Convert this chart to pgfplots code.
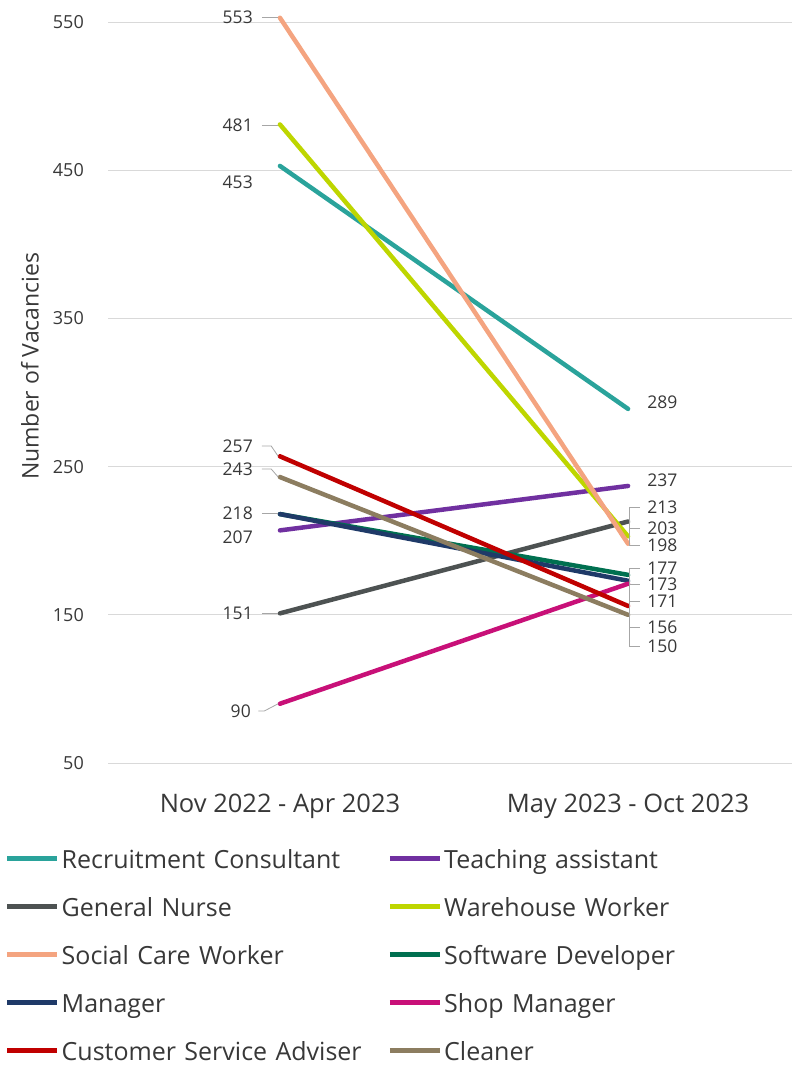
\documentclass[border=0pt]{standalone}
\usepackage{fontspec}
\setmainfont{Open Sans}
\usepackage{pgfplots}
\pgfplotsset{compat=1.18}
\definecolor{rc}{RGB}{42,163,155}
\definecolor{ta}{RGB}{112,48,160}
\definecolor{gn}{RGB}{77,82,82}
\definecolor{ww}{RGB}{190,214,0}
\definecolor{scw}{RGB}{244,164,128}
\definecolor{sd}{RGB}{0,112,80}
\definecolor{mg}{RGB}{31,58,104}
\definecolor{sm}{RGB}{200,16,120}
\definecolor{csa}{RGB}{192,0,0}
\definecolor{cl}{RGB}{140,125,96}
\definecolor{txt}{RGB}{56,56,56}
\definecolor{gridc}{RGB}{217,217,217}
\definecolor{lead}{RGB}{166,166,166}
\begin{document}
\begin{tikzpicture}
\useasboundingbox (0,0) rectangle (792pt,1066pt);
\begin{axis}[
  at={(108pt,303pt)}, anchor=south west,
  width=684pt, height=763pt, scale only axis,
  xmin=-0.494, xmax=1.471, ymin=50, ymax=565,
  xtick={0,1}, xticklabels={Nov 2022 - Apr 2023, May 2023 - Oct 2023},
  ytick={50,150,...,550},
  ymajorgrids, major grid style={color=gridc, line width=1pt},
  axis line style={draw=none},
  major tick length=0pt,
  clip=false,
  /pgf/number format/assume math mode=true,
  ticklabel style={inner sep=1pt, text=txt},
  yticklabel style={anchor=east, xshift=-23pt, font=\fontsize{18}{22}\selectfont},
  xticklabel style={anchor=north, yshift=-30pt, font=\fontsize{25.5}{30}\selectfont},
  ylabel={Number of Vacancies},
  ylabel style={at={(axis description cs:-0.114,0.52)}, anchor=center, text=txt, font=\fontsize{23}{27}\selectfont},
  legend columns=2,
  legend style={at={(axis description cs:-0.1506,-0.1153)}, anchor=north west,
    draw=none, fill=none, inner sep=0pt, row sep=28pt, column sep=0pt,
    font=\fontsize{25}{30}\selectfont, text=txt,
    nodes={inner xsep=2pt, inner ysep=0pt, text width=324pt, align=left, text height=17pt, text depth=3pt}},
  legend image code/.code={\draw[#1,line width=4.5pt,line cap=butt] (0pt,0.28em)--(50pt,0.28em);},
  every axis plot/.append style={line width=4.5pt, line cap=round},
]
\addplot[rc] coordinates {(0,453) (1,289)}; \addlegendentry{Recruitment Consultant}
\addplot[ta] coordinates {(0,207) (1,237)}; \addlegendentry{Teaching assistant}
\addplot[gn] coordinates {(0,151) (1,213)}; \addlegendentry{General Nurse}
\addplot[ww] coordinates {(0,481) (1,203)}; \addlegendentry{Warehouse Worker}
\addplot[scw] coordinates {(0,553) (1,198)}; \addlegendentry{Social Care Worker}
\addplot[sd] coordinates {(0,218) (1,177)}; \addlegendentry{Software Developer}
\addplot[mg] coordinates {(0,218) (1,173)}; \addlegendentry{Manager}
\addplot[sm] coordinates {(0,90) (1,171)}; \addlegendentry{Shop Manager}
\addplot[csa] coordinates {(0,257) (1,156)}; \addlegendentry{Customer Service Adviser}
\addplot[cl] coordinates {(0,243) (1,150)}; \addlegendentry{Cleaner}

% leader lines left
\draw[lead, line width=0.8pt] (axis cs:-0.052,553.4) -- (axis cs:-0.005,553.4);
\draw[lead, line width=0.8pt] (axis cs:-0.052,480.5) -- (axis cs:-0.005,480.5);
\draw[lead, line width=0.8pt] (axis cs:-0.052,263.9) -- (axis cs:-0.025,263.9) -- (axis cs:-0.005,257);
\draw[lead, line width=0.8pt] (axis cs:-0.052,248.4) -- (axis cs:-0.025,248.4) -- (axis cs:-0.005,243);
\draw[lead, line width=0.8pt] (axis cs:-0.052,218.5) -- (axis cs:-0.005,218.5);
\draw[lead, line width=0.8pt] (axis cs:-0.052,151) -- (axis cs:-0.005,151);
\draw[lead, line width=0.8pt] (axis cs:-0.062,85.1) -- (axis cs:-0.045,85.1) -- (axis cs:-0.005,90);
% leader lines right
\draw[lead, line width=0.8pt] (axis cs:1.035,222.7) -- (axis cs:1.005,222.7) -- (axis cs:1.005,197.1) -- (axis cs:1.035,197.1);
\draw[lead, line width=0.8pt] (axis cs:1.005,208.6) -- (axis cs:1.035,208.6);
\draw[lead, line width=0.8pt] (axis cs:1.035,181.6) -- (axis cs:1.005,181.6) -- (axis cs:1.005,129) -- (axis cs:1.035,129);
\draw[lead, line width=0.8pt] (axis cs:1.005,170.8) -- (axis cs:1.035,170.8);
\draw[lead, line width=0.8pt] (axis cs:1.005,159.3) -- (axis cs:1.035,159.3);
\draw[lead, line width=0.8pt] (axis cs:1.005,141.8) -- (axis cs:1.035,141.8);

% data labels
\tikzset{dl/.style={text=txt, font=\fontsize{17.5}{21}\selectfont, inner sep=1pt}}
\node[dl, anchor=east, xshift=-26pt] at (axis cs:0,553.4) {553};
\node[dl, anchor=east, xshift=-26pt] at (axis cs:0,480.5) {481};
\node[dl, anchor=east, xshift=-26pt] at (axis cs:0,442) {453};
\node[dl, anchor=east, xshift=-26pt] at (axis cs:0,263.9) {257};
\node[dl, anchor=east, xshift=-26pt] at (axis cs:0,248.4) {243};
\node[dl, anchor=east, xshift=-26pt] at (axis cs:0,218.5) {218};
\node[dl, anchor=east, xshift=-26pt] at (axis cs:0,202.5) {207};
\node[dl, anchor=east, xshift=-26pt] at (axis cs:0,151) {151};
\node[dl, anchor=east, xshift=-28pt] at (axis cs:0,85.1) {90};
\node[dl, anchor=west, xshift=18pt] at (axis cs:1,293.6) {289};
\node[dl, anchor=west, xshift=18pt] at (axis cs:1,241) {237};
\node[dl, anchor=west, xshift=18pt] at (axis cs:1,222.7) {213};
\node[dl, anchor=west, xshift=18pt] at (axis cs:1,208.6) {203};
\node[dl, anchor=west, xshift=18pt] at (axis cs:1,197.1) {198};
\node[dl, anchor=west, xshift=18pt] at (axis cs:1,181.6) {177};
\node[dl, anchor=west, xshift=18pt] at (axis cs:1,170.8) {173};
\node[dl, anchor=west, xshift=18pt] at (axis cs:1,159.3) {171};
\node[dl, anchor=west, xshift=18pt] at (axis cs:1,141.8) {156};
\node[dl, anchor=west, xshift=18pt] at (axis cs:1,129) {150};
\end{axis}
\end{tikzpicture}
\end{document}
